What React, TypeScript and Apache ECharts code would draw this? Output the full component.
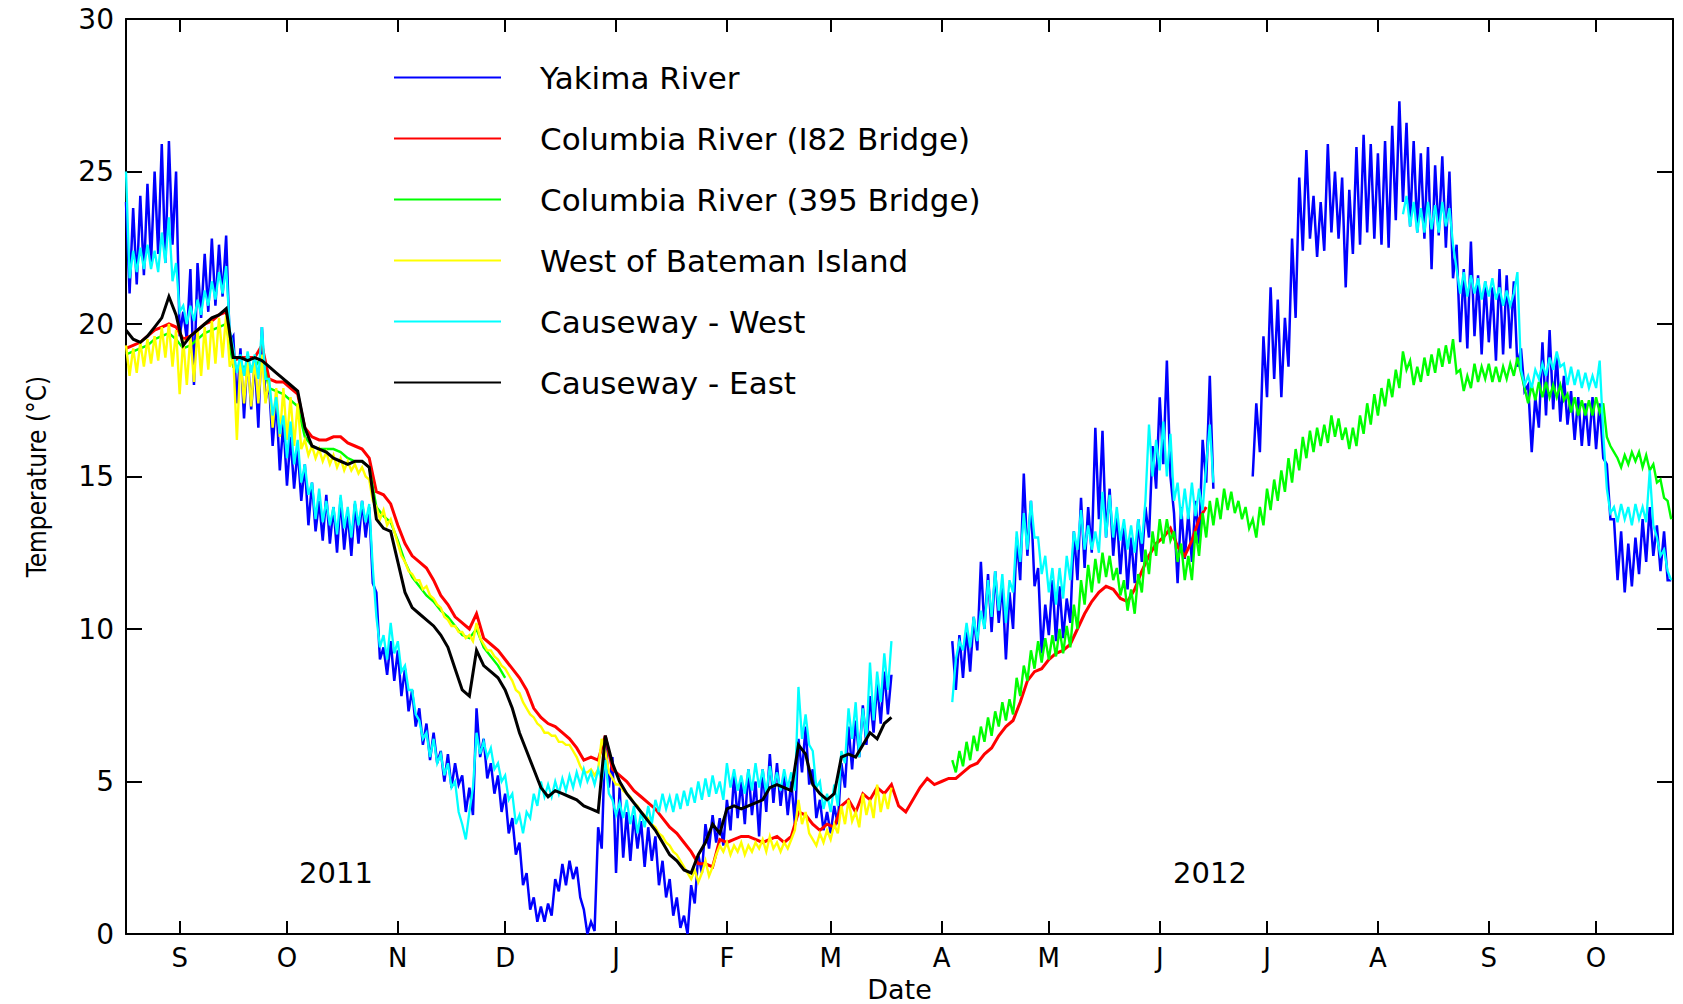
import React, { useEffect, useRef } from "react";
import * as echarts from "echarts";

// x = days since 2011-09-01
const MONTH_DAYS = [0, 30, 61, 91, 122, 153, 182, 213, 243, 274, 304, 335, 366, 396];
const MONTH_LABELS = ["S", "O", "N", "D", "J", "F", "M", "A", "M", "J", "J", "A", "S", "O"];
const X_MIN = -15;
const X_MAX = 417.5;

// Yakima River (daily alternating high / low readings)
const yakima1Start = -15;
const yakima1 = [
  24.0, 21.0, 23.8, 21.3, 24.2, 21.6, 24.6, 22.0, 25.0, 22.3,
  25.9, 22.0, 26.0, 22.6, 25.0, 19.6, 20.4, 19.5, 21.8, 18.0,
  22.0, 20.2, 22.3, 20.4, 22.8, 20.6, 22.6, 20.9, 22.9, 19.4,
  19.6, 17.4, 19.2, 16.9, 19.0, 17.2, 18.8, 16.6, 19.9, 17.5,
  18.0, 16.0, 17.5, 15.2, 16.8, 14.7, 16.3, 14.6, 15.9, 14.2,
  15.4, 13.4, 14.8, 13.2, 14.2, 12.9, 14.4, 12.8, 14.0, 12.5,
  14.3, 12.6, 13.8, 12.4, 14.1, 12.8, 14.2, 13.0, 14.0, 11.5,
  11.2, 9.0, 9.4, 8.5, 9.6, 8.3, 9.3, 7.8, 8.7, 7.3,
  8.0, 6.8, 7.4, 6.2, 6.9, 5.7, 6.6, 5.6, 6.0, 5.0,
  5.9, 4.8, 5.6, 4.9, 5.2, 4.0, 4.8, 3.9, 7.4, 5.8,
  6.4, 5.1, 5.6, 4.6, 5.2, 4.0, 4.6, 3.3, 3.8, 2.6,
  3.0, 1.6, 2.0, 0.8, 1.2, 0.4, 0.9, 0.4, 1.0, 0.6,
  1.8, 1.4, 2.3, 1.6, 2.4, 1.8, 2.2, 1.2, 0.8, 0.0,
  0.4, 0.1, 3.5, 2.8, 6.5, 4.8, 5.8, 2.0, 4.8, 2.5,
  4.0, 2.4, 3.9, 2.8, 3.7, 2.2, 3.5, 2.4, 3.2, 1.6,
  2.4, 1.2, 1.8, 0.6, 1.2, 0.2, 0.6, 0.0, 1.6, 1.0,
  2.6, 2.0, 3.6, 2.8, 3.9, 3.0, 3.8, 2.9, 4.4, 3.4,
  5.2, 3.8, 5.0, 3.6, 5.4, 3.9, 5.0, 3.2, 5.4, 4.0,
  5.9, 4.3, 5.6, 4.2, 5.2, 3.9, 5.0, 3.6, 6.4, 5.3,
  6.8, 4.9, 5.4, 3.8, 4.4, 3.4, 4.0, 3.3, 4.2, 3.6,
  5.6, 4.8, 6.8, 5.4, 7.0, 5.8, 7.5, 6.2, 7.8, 6.6,
  8.2, 6.9, 8.6, 7.2, 8.5,
];
const yakima2Start = 216;
const yakima2 = [
  9.6, 8.0, 9.8, 8.4, 10.0, 8.6, 10.4, 9.3, 12.2, 10.0,
  11.8, 9.9, 11.9, 10.2, 11.5, 9.0, 11.2, 10.0, 13.0, 11.6,
  15.1, 12.4, 14.2, 11.4, 12.0, 9.2, 10.8, 9.8, 11.6, 9.6,
  11.4, 9.7, 11.0, 10.2, 13.2, 11.6, 14.3, 12.0, 14.0, 12.5,
  16.6, 13.6, 16.5, 13.0, 14.6, 12.4, 13.8, 11.8, 13.4, 11.3,
  13.0, 11.5, 13.6, 12.2, 14.0, 13.0, 16.0, 14.6, 17.6, 15.4,
  18.8, 15.0, 13.8, 11.5, 14.0, 12.3, 13.8, 12.2, 14.2, 12.8,
  16.2, 14.8, 18.3, 14.6,
];
const yakima3Start = 300;
const yakima3 = [
  15.0, 17.4, 15.8, 19.6, 17.6, 21.2, 18.2, 20.8, 17.6, 20.2,
  18.6, 22.8, 20.2, 24.8, 22.4, 25.7, 22.8, 24.2, 22.2, 24.0,
  22.4, 25.9, 23.0, 25.0, 22.8, 24.8, 21.2, 24.4, 22.3, 25.8,
  22.6, 26.2, 23.0, 25.9, 22.8, 25.6, 22.6, 26.0, 22.5, 26.5,
  23.4, 27.3, 24.0, 26.6, 23.2, 26.0, 23.0, 25.6, 22.8, 25.8,
  21.8, 25.2, 22.9, 25.5, 22.5, 25.0, 21.5, 22.6, 19.4, 21.8,
  19.2, 22.7, 19.6, 21.6, 19.0, 21.4, 19.4, 21.2, 18.8, 21.8,
  19.0, 21.6, 19.2, 21.4, 18.6, 19.2, 17.8, 18.0, 15.8, 17.6,
  16.6, 19.4, 17.0, 19.8, 17.2, 19.0, 16.8, 18.3, 16.7, 17.8,
  16.2, 17.6, 16.0, 17.4, 16.0, 17.6, 15.9, 17.4, 15.6, 15.4,
  13.6, 13.6, 11.6, 13.2, 11.2, 12.8, 11.4, 13.0, 11.8, 13.6,
  12.2, 14.0, 12.4, 13.4, 11.9, 13.2, 11.6, 11.6,
];

// Columbia River (I82 Bridge), every 2 days
const i82Start = -15;
const i82 = [
  19.2, 19.3, 19.4, 19.6, 19.8, 19.9, 20.0, 19.9, 19.5, 19.6,
  19.8, 20.0, 20.1, 20.3, 20.4, 18.8, 18.9, 18.9, 18.9, 19.3,
  18.2, 18.1, 18.1, 17.9, 17.7, 16.6, 16.3, 16.2, 16.2, 16.3,
  16.3, 16.1, 16.0, 15.9, 15.6, 14.5, 14.4, 14.1, 13.4, 12.8,
  12.4, 12.2, 12.0, 11.6, 11.1, 10.8, 10.4, 10.2, 10.0, 10.5,
  9.7, 9.5, 9.3, 9.0, 8.7, 8.4, 8.0, 7.4, 7.1, 6.9,
  6.8, 6.6, 6.4, 6.1, 5.7, 5.8, 5.7, 6.5, 5.4, 5.2,
  5.0, 4.7, 4.5, 4.3, 4.1, 3.8, 3.5, 3.3, 3.0, 2.7,
  2.3, 2.3, 2.2, 3.1, 3.0, 3.1, 3.2, 3.2, 3.1, 3.0,
  3.1, 3.2, 3.0, 3.2, 4.0, 3.9, 3.6, 3.4, 3.6, 3.5,
  4.2, 4.4, 4.0, 4.6, 4.4, 4.8, 4.6, 4.9, 4.2, 4.0,
  4.4, 4.8, 5.1, 4.9, 5.0, 5.1, 5.1, 5.3, 5.5, 5.6,
  5.9, 6.1, 6.5, 6.8, 7.0, 7.6, 8.3, 8.6, 8.7, 9.0,
  9.2, 9.3, 9.5, 10.0, 10.5, 10.9, 11.2, 11.4, 11.3, 11.0,
  10.9, 11.3, 11.9, 12.4, 12.8, 13.0, 13.3, 12.7, 12.4, 12.9,
  13.6, 14.0,
];

// Columbia River (395 Bridge)
const b395aStart = -15; // every 2 days
const b395a = [
  19.0, 19.1, 19.2, 19.3, 19.5, 19.6, 19.7, 19.5, 19.2, 19.3,
  19.5, 19.7, 19.8, 19.9, 20.0, 18.6, 18.6, 18.6, 18.6, 18.9,
  17.9, 17.8, 17.7, 17.5, 17.3, 16.3, 16.0, 15.9, 15.9, 15.9,
  15.8, 15.6, 15.5, 15.5, 15.3, 14.0, 13.7, 13.5, 12.9, 12.2,
  11.7, 11.4, 11.1, 10.9, 10.6, 10.4, 10.1, 9.8, 9.7, 10.0,
  9.4, 9.1, 8.8, 8.4,
];
const b395bStart = 216; // daily high / low
const b395b = [
  5.7, 5.3, 6.0, 5.5, 6.3, 5.7, 6.5, 6.0, 6.8, 6.3,
  7.1, 6.5, 7.3, 6.8, 7.6, 7.0, 7.7, 7.2, 8.4, 7.8,
  8.8, 8.3, 9.3, 8.7, 9.6, 8.9, 9.7, 9.0, 9.8, 9.1,
  10.0, 9.2, 10.1, 9.4, 10.8, 10.0, 11.6, 10.8, 12.1, 11.2,
  12.3, 11.5, 12.5, 11.7, 12.4, 11.6, 12.0, 11.1, 11.6, 10.6,
  11.3, 10.5, 11.8, 11.2, 12.6, 11.8, 13.2, 12.4, 13.6, 12.8,
  13.6, 12.9, 13.2, 12.2, 12.8, 11.6, 12.4, 11.6, 13.2, 12.4,
  13.8, 13.0, 14.2, 13.4, 14.3, 13.6, 14.6, 13.9, 14.5, 13.8,
  14.2, 13.6, 14.0, 13.3, 13.6, 13.0, 14.0, 13.4, 14.6, 13.9,
  14.9, 14.2, 15.2, 14.5, 15.6, 14.8, 15.9, 15.2, 16.3, 15.6,
  16.5, 15.8, 16.6, 16.0, 16.7, 16.1, 17.0, 16.3, 16.9, 16.2,
  16.6, 15.9, 16.6, 16.0, 17.0, 16.4, 17.4, 16.7, 17.7, 17.0,
  17.9, 17.3, 18.2, 17.6, 18.5, 17.9, 19.1, 18.5, 18.8, 18.0,
  18.6, 18.1, 18.9, 18.3, 19.0, 18.4, 19.2, 18.6, 19.3, 18.7,
  19.5, 18.4, 18.5, 17.8, 18.3, 17.9, 18.7, 18.1, 18.6, 18.2,
  18.7, 18.1, 18.6, 18.1, 18.6, 18.2, 18.7, 18.3, 18.9, 18.4,
  17.9, 17.4, 18.0, 17.5, 18.1, 17.6, 18.1, 17.6, 18.0, 17.6,
  18.0, 17.5, 17.7, 17.1, 17.6, 17.0, 17.5, 17.0, 17.5, 17.0,
  17.6, 17.1, 17.4, 16.3, 16.0, 15.8, 15.6, 15.3, 15.7, 15.4,
  15.8, 15.5, 15.8, 15.3, 15.7, 15.2, 15.4, 14.8, 14.9, 14.3,
  14.2, 13.6,
];

// West of Bateman Island (daily)
const batemanStart = -15;
const bateman = [
  19.3, 18.3, 19.2, 18.4, 19.4, 18.6, 19.5, 18.7, 19.6, 18.8,
  19.9, 18.9, 20.0, 18.6, 19.8, 17.7, 19.5, 18.0, 19.6, 18.1,
  19.8, 18.3, 19.9, 18.5, 20.1, 18.7, 20.2, 18.9, 20.3, 18.6,
  18.9, 16.2, 18.9, 17.4, 18.8, 17.3, 18.9, 17.4, 19.0, 17.4,
  18.2, 16.6, 17.9, 16.3, 17.9, 16.2, 17.6, 16.0, 17.4, 15.9,
  16.2, 15.7, 16.0, 15.6, 15.9, 15.5, 15.8, 15.4, 15.7, 15.3,
  15.6, 15.2, 15.5, 15.2, 15.4, 15.1, 15.3, 15.0, 14.9, 14.2,
  14.0, 13.6, 13.9, 13.4, 13.6, 13.2, 12.8, 12.4, 12.2, 11.9,
  11.8, 11.6, 11.6, 11.3, 11.4, 11.1, 11.0, 10.8, 10.7, 10.4,
  10.3, 10.1, 10.1, 9.9, 9.9, 9.7, 9.8, 9.6, 10.2, 9.7,
  9.5, 9.3, 9.3, 9.1, 9.0, 8.8, 8.7, 8.5, 8.3, 8.0,
  7.9, 7.6, 7.4, 7.2, 7.1, 6.9, 6.8, 6.6, 6.6, 6.5,
  6.5, 6.3, 6.3, 6.2, 6.2, 6.0, 5.8, 5.5, 5.3, 5.3,
  5.4, 5.2, 5.4, 6.4, 6.0, 5.3, 5.1, 4.9, 4.9, 4.7,
  4.6, 4.5, 4.3, 4.2, 4.0, 3.9, 3.8, 3.6, 3.5, 3.3,
  3.2, 3.0, 2.9, 2.7, 2.6, 2.4, 2.2, 2.0, 1.8, 2.1,
  1.7, 2.0, 2.4, 1.9, 2.2, 2.6, 2.9, 2.7, 3.0, 2.6,
  2.9, 2.7, 3.0, 2.6, 2.9, 2.7, 3.0, 2.8, 3.1, 2.7,
  3.2, 2.8, 3.0, 2.7, 3.0, 2.8, 3.1, 3.4, 4.4, 3.6,
  4.0, 3.3, 3.1, 2.9, 3.3, 3.0, 3.4, 3.1, 3.6, 3.3,
  4.2, 3.6, 4.4, 3.7, 4.0, 3.5, 4.6, 3.9, 4.4, 3.8,
  4.9, 4.0, 4.6, 4.1, 4.8,
];

// Causeway - West (daily alternating high / low)
const cwWest1Start = -15;
const cwWest1 = [
  25.0, 21.5, 22.4, 21.7, 22.5, 21.8, 22.6, 21.8, 22.4, 21.7,
  23.0, 22.0, 23.5, 21.4, 22.0, 20.4, 20.6, 20.0, 20.6, 20.1,
  20.8, 20.3, 21.1, 20.6, 21.4, 20.8, 21.7, 21.0, 21.9, 19.8,
  19.2, 18.4, 19.0, 18.3, 19.1, 18.4, 19.0, 18.2, 19.9, 18.2,
  18.2, 17.0, 17.6, 16.4, 17.0, 15.6, 16.8, 15.4, 16.2, 14.8,
  15.4, 14.4, 14.8, 13.6, 14.6, 13.5, 14.2, 13.4, 14.0, 13.1,
  14.4, 13.3, 14.0, 13.0, 14.2, 13.4, 14.2, 13.5, 14.1, 12.0,
  10.4, 9.4, 9.8, 9.0, 10.2, 9.2, 9.6, 8.6, 8.8, 8.0,
  8.0, 7.2, 7.0, 6.4, 6.6, 5.8, 6.4, 5.6, 5.9, 5.2,
  5.6, 4.8, 5.0, 4.0, 3.6, 3.1, 4.0, 4.8, 6.6, 5.9,
  6.3, 5.8, 6.1, 5.4, 5.6, 5.0, 5.2, 4.4, 4.6, 3.6,
  3.9, 3.3, 4.0, 3.8, 4.6, 4.2, 5.0, 4.5, 4.9, 4.5,
  5.0, 4.6, 5.1, 4.7, 5.2, 4.8, 5.3, 4.9, 5.4, 5.0,
  5.3, 4.9, 5.4, 5.0, 5.7, 4.6, 4.4, 3.9, 4.3, 3.8,
  4.4, 3.6, 4.2, 3.3, 4.0, 3.5, 4.2, 3.6, 4.4, 4.0,
  4.6, 4.1, 4.5, 4.0, 4.6, 4.1, 4.7, 4.2, 4.8, 4.3,
  5.0, 4.4, 5.1, 4.5, 5.2, 4.6, 5.0, 4.4, 5.6, 4.8,
  5.4, 4.7, 5.2, 4.6, 5.4, 4.7, 5.6, 4.8, 5.4, 4.6,
  5.5, 4.8, 5.3, 4.7, 5.4, 4.8, 5.3, 4.7, 8.1, 6.4,
  7.2, 6.2, 6.0, 4.8, 5.0, 4.1, 4.6, 4.0, 4.9, 4.2,
  6.0, 5.6, 7.4, 6.4, 7.6, 5.8, 7.4, 6.4, 8.9, 7.0,
  8.6, 7.6, 9.2, 8.0, 9.6,
];
const cwWest2Start = 216;
const cwWest2 = [
  7.6, 9.0, 9.6, 9.3, 10.2, 9.4, 10.4, 9.6, 10.6, 10.0,
  11.6, 10.4, 11.9, 10.6, 11.8, 10.2, 11.6, 11.2, 13.2, 12.2,
  13.8, 12.6, 14.2, 13.0, 13.0, 11.8, 12.4, 11.2, 12.0, 10.8,
  12.0, 11.0, 12.4, 11.6, 13.2, 12.6, 13.9, 12.6, 13.4, 12.6,
  13.2, 12.5, 14.5, 13.0, 14.4, 13.0, 14.0, 12.9, 13.6, 12.6,
  13.4, 12.5, 13.6, 12.8, 14.2, 16.7, 15.0, 16.2, 15.2, 16.8,
  15.0, 16.4, 14.2, 14.8, 13.6, 14.6, 13.6, 14.8, 13.7, 14.6,
  13.9, 15.4, 16.7, 14.8,
];
const cwWest3Start = 342;
const cwWest3 = [
  23.6, 24.2, 23.2, 24.0, 23.0, 23.8, 23.0, 24.0, 23.1, 23.9,
  23.0, 24.0, 23.2, 23.8, 22.6, 21.8, 21.0, 21.7, 20.9, 21.6,
  21.0, 21.5, 20.8, 21.4, 20.9, 21.5, 20.8, 21.2, 20.6, 21.1,
  20.6, 21.0, 21.7, 18.5, 18.0, 18.3, 17.9, 18.5, 18.2, 18.7,
  18.3, 18.9, 18.5, 19.1, 18.6, 18.7, 18.0, 18.6, 18.0, 18.5,
  17.9, 18.4, 17.9, 18.3, 17.9, 18.8, 16.4, 14.6, 13.8, 14.0,
  13.5, 14.1, 13.6, 14.0, 13.4, 14.1, 13.6, 14.0, 13.5, 15.2,
  13.4, 13.0, 12.4, 12.6, 11.9, 11.6,
];

// Causeway - East, every 2 days
const cwEastStart = -15;
const cwEast = [
  19.8, 19.5, 19.4, 19.6, 19.9, 20.2, 20.9, 20.3, 19.3, 19.6,
  19.8, 20.0, 20.2, 20.3, 20.5, 18.9, 18.9, 18.8, 18.9, 18.8,
  18.6, 18.4, 18.2, 18.0, 17.8, 16.6, 16.0, 15.9, 15.8, 15.6,
  15.5, 15.4, 15.5, 15.5, 15.3, 13.6, 13.3, 13.2, 12.2, 11.2,
  10.7, 10.5, 10.3, 10.1, 9.8, 9.4, 8.7, 8.0, 7.8, 9.3,
  8.8, 8.6, 8.4, 8.0, 7.4, 6.6, 6.0, 5.4, 4.8, 4.5,
  4.7, 4.6, 4.5, 4.4, 4.2, 4.1, 4.0, 6.5, 5.6, 5.0,
  4.6, 4.3, 4.0, 3.7, 3.4, 3.0, 2.6, 2.4, 2.1, 2.0,
  2.6, 3.0, 3.6, 3.3, 4.1, 4.2, 4.1, 4.2, 4.3, 4.4,
  4.8, 4.9, 4.8, 4.7, 6.2, 5.9, 4.9, 4.6, 4.4, 4.6,
  5.8, 5.9, 5.8, 6.2, 6.6, 6.4, 6.9, 7.1,
];

const SERIES_NAMES = [
  "Yakima River",
  "Columbia River (I82 Bridge)",
  "Columbia River (395 Bridge)",
  "West of Bateman Island",
  "Causeway - West",
  "Causeway - East",
];
const SERIES_COLORS = ["#0000ff", "#ff0000", "#00ff00", "#ffff00", "#00ffff", "#000000"];

type Pt = [number, number | null];
function seg(start: number, step: number, vals: number[]): Pt[] {
  return vals.map((v, i) => [start + i * step, v] as Pt);
}
function joinSegs(...segs: Pt[][]): Pt[] {
  const out: Pt[] = [];
  segs.forEach((s, k) => {
    if (k > 0 && s.length) out.push([s[0][0] - 0.5, null]);
    out.push(...s);
  });
  return out;
}

const FONT = "DejaVu Sans, Liberation Sans, sans-serif";

export default function App() {
  const ref = useRef<HTMLDivElement>(null);
  useEffect(() => {
    if (!ref.current) return;
    const chart = echarts.init(ref.current, null, { renderer: "svg" });
    const dataSets: Pt[][] = [
      joinSegs(seg(yakima1Start, 1, yakima1), seg(yakima2Start, 1, yakima2), seg(yakima3Start, 1, yakima3)),
      seg(i82Start, 2, i82),
      joinSegs(seg(b395aStart, 2, b395a), seg(b395bStart, 1, b395b)),
      seg(batemanStart, 1, bateman),
      joinSegs(seg(cwWest1Start, 1, cwWest1), seg(cwWest2Start, 1, cwWest2), seg(cwWest3Start, 1, cwWest3)),
      seg(cwEastStart, 2, cwEast),
    ];
    const widths = [2.5, 3, 2.4, 2.4, 2.3, 3];
    const axisLine = { show: true, onZero: false, lineStyle: { color: "#000", width: 2 } };
    const option: any = {
      animation: false,
      backgroundColor: "#ffffff",
      grid: { left: 126, right: 10, top: 19, bottom: 70, containLabel: false, outerBoundsMode: "none" },
      legend: {
        show: true,
        orient: "vertical",
        left: 394,
        top: 62,
        padding: 0,
        icon: "rect",
        itemWidth: 107,
        itemHeight: 2,
        itemGap: 30,
        data: SERIES_NAMES,
        textStyle: {
          fontFamily: FONT,
          fontSize: 31,
          color: "#000",
          lineHeight: 30,
          padding: [0, 0, 0, 34],
        },
        selectedMode: false,
      },
      xAxis: [
        {
          type: "value",
          min: X_MIN,
          max: X_MAX,
          position: "bottom",
          axisLine,
          axisTick: { show: true, inside: true, length: 13, customValues: MONTH_DAYS, lineStyle: { color: "#000", width: 2 } },
          axisLabel: {
            show: true,
            customValues: MONTH_DAYS,
            formatter: (v: number) => {
              const i = MONTH_DAYS.indexOf(Math.round(v));
              return i >= 0 ? MONTH_LABELS[i] : "";
            },
            fontFamily: FONT,
            fontSize: 26,
            color: "#000",
            margin: 11,
          },
          splitLine: { show: false },
          name: "Date",
          nameLocation: "middle",
          nameGap: 37,
          nameTextStyle: { fontFamily: FONT, fontSize: 27, color: "#000", lineHeight: 28 },
        },
        {
          type: "value",
          min: X_MIN,
          max: X_MAX,
          position: "top",
          axisLine,
          axisTick: { show: true, inside: true, length: 13, customValues: MONTH_DAYS, lineStyle: { color: "#000", width: 2 } },
          axisLabel: { show: false },
          splitLine: { show: false },
        },
      ],
      yAxis: [
        {
          type: "value",
          min: 0,
          max: 30,
          interval: 5,
          position: "left",
          axisLine,
          axisTick: { show: true, inside: true, length: 16, lineStyle: { color: "#000", width: 2 } },
          axisLabel: { show: true, fontFamily: FONT, fontSize: 28, color: "#000", margin: 12 },
          splitLine: { show: false },
          name: "Temperature (°C)",
          nameLocation: "middle",
          nameRotate: 90,
          nameGap: 76,
          nameTextStyle: {
            fontFamily: "Liberation Sans Narrow, DejaVu Sans Condensed, Liberation Sans, sans-serif",
            fontSize: 26,
            color: "#000",
          },
        },
        {
          type: "value",
          min: 0,
          max: 30,
          interval: 5,
          position: "right",
          axisLine,
          axisTick: { show: true, inside: true, length: 16, lineStyle: { color: "#000", width: 2 } },
          axisLabel: { show: false },
          splitLine: { show: false },
        },
      ],
      graphic: [
        {
          type: "text",
          x: 336,
          y: 873,
          style: { text: "2011", font: `29px ${FONT}`, fill: "#000", textAlign: "center", textVerticalAlign: "middle" },
        },
        {
          type: "text",
          x: 1210,
          y: 873,
          style: { text: "2012", font: `29px ${FONT}`, fill: "#000", textAlign: "center", textVerticalAlign: "middle" },
        },
      ],
      series: SERIES_NAMES.map((name, i) => ({
        name,
        type: "line",
        xAxisIndex: 0,
        yAxisIndex: 0,
        data: dataSets[i],
        symbol: "none",
        showSymbol: false,
        connectNulls: false,
        silent: true,
        emphasis: { disabled: true },
        itemStyle: { color: SERIES_COLORS[i] },
        lineStyle: { color: SERIES_COLORS[i], width: widths[i], join: "miter" },
      })),
    };
    chart.setOption(option);
    return () => chart.dispose();
  }, []);
  return (
    <div
      ref={ref}
      style={{ position: "absolute", left: 0, top: 0, width: 1683, height: 1004, background: "#fff" }}
    />
  );
}
